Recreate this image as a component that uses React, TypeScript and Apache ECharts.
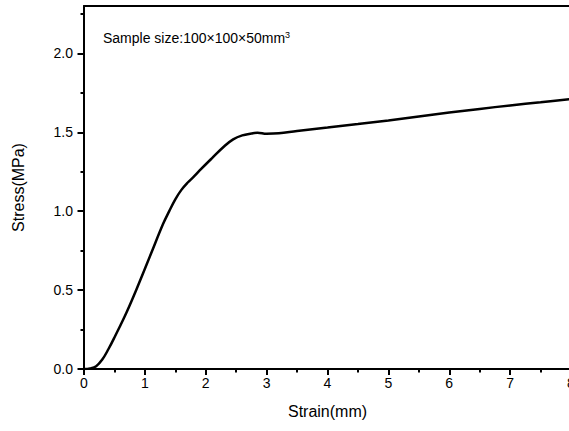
import React, { useEffect, useRef } from "react";
import * as echarts from "echarts";

const strain = [0, 0.1, 0.2, 0.3, 0.4, 0.5, 0.7, 0.9, 1.1, 1.3, 1.4, 1.5, 1.6, 1.7, 1.8, 1.9, 2.1, 2.3, 2.45, 2.6, 2.75, 2.85, 3.0, 3.2, 3.5, 4.0, 4.5, 5.0, 5.5, 6.0, 6.5, 7.0, 7.5, 8.0];
const stress = [0, 0.004, 0.018, 0.06, 0.125, 0.2, 0.36, 0.54, 0.73, 0.92, 1.0, 1.075, 1.135, 1.18, 1.217, 1.258, 1.335, 1.41, 1.455, 1.48, 1.492, 1.497, 1.49, 1.493, 1.508, 1.53, 1.552, 1.575, 1.6, 1.625, 1.648, 1.67, 1.69, 1.71];
const yMajorTicks = [0, 0.5, 1.0, 1.5, 2.0];
const yMinorTicks = [0.25, 0.75, 1.25, 1.75, 2.25];

export default function App() {
  const ref = useRef<HTMLDivElement>(null);
  useEffect(() => {
    if (!ref.current) return;
    const chart = echarts.init(ref.current, null, { renderer: "svg" });
    const font = "Arial, 'Liberation Sans', sans-serif";
    const black = { color: "#000", width: 2 };
    chart.setOption({
      animation: false,
      backgroundColor: "#fff",
      grid: { left: 84, top: 6, width: 487, height: 363 },
      xAxis: [
        {
          type: "value",
          min: 0,
          max: 8,
          interval: 1,
          name: "Strain(mm)",
          nameLocation: "middle",
          nameGap: 34,
          nameTextStyle: { color: "#000", fontSize: 16, fontFamily: font },
          axisLine: { show: true, lineStyle: black },
          axisTick: { show: true, length: 6, lineStyle: black },
          minorTick: { show: true, splitNumber: 2, length: 3.5, lineStyle: black },
          axisLabel: { color: "#000", fontSize: 14, fontFamily: font, margin: 7 },
          splitLine: { show: false },
        },
        {
          type: "value",
          min: 0,
          max: 8,
          interval: 1,
          position: "top",
          axisLine: { show: true, onZero: false, lineStyle: black },
          axisTick: { show: false },
          axisLabel: { show: false },
          splitLine: { show: false },
        },
      ],
      yAxis: [
        {
          type: "value",
          min: 0,
          max: 2.3,
          name: "Stress(MPa)",
          nameLocation: "middle",
          nameGap: 58,
          nameTextStyle: { color: "#000", fontSize: 16, fontFamily: font },
          axisLine: { show: true, lineStyle: black },
          axisTick: { show: true, length: 6.5, customValues: yMajorTicks, lineStyle: black },
          axisLabel: {
            color: "#000",
            fontSize: 14,
            fontFamily: font,
            margin: 11,
            customValues: yMajorTicks,
            formatter: (v: number) => v.toFixed(1),
          },
          splitLine: { show: false },
        },
        {
          type: "value",
          min: 0,
          max: 2.3,
          position: "left",
          axisLine: { show: false },
          axisTick: { show: true, length: 3.5, customValues: yMinorTicks, lineStyle: black },
          axisLabel: { show: false },
          splitLine: { show: false },
        },
      ],
      graphic: [
        {
          type: "text",
          left: 103,
          top: 30,
          style: {
            text: "{a|Sample size:100×100×50mm}{b|3}",
            rich: {
              a: { fontSize: 14, fontFamily: font, fill: "#000", lineHeight: 16 },
              b: { fontSize: 9, fontFamily: font, fill: "#000", verticalAlign: "top", lineHeight: 16 },
            },
          },
        },
      ],
      series: [
        {
          type: "line",
          data: strain.map((x, i) => [x, stress[i]]),
          showSymbol: false,
          smooth: 0.4,
          lineStyle: { color: "#000", width: 2.5 },
        },
      ],
    });
    return () => chart.dispose();
  }, []);
  return (
    <div style={{ position: "fixed", left: 0, top: 0, width: 569, height: 431, overflow: "hidden", background: "#fff" }}>
      <div ref={ref} style={{ width: 600, height: 431 }} />
    </div>
  );
}
